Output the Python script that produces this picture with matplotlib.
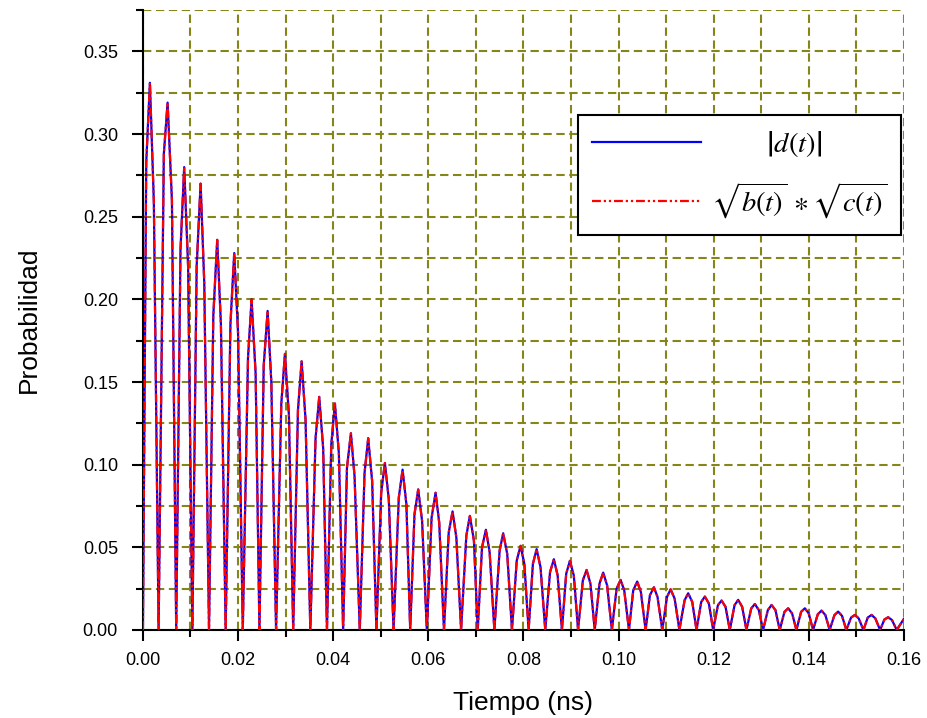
import numpy as np
import matplotlib
matplotlib.use("Agg")
import matplotlib.pyplot as plt
from matplotlib.ticker import MultipleLocator, FormatStrFormatter

# Peaks of the oscillation (time in ns, probability)
peak_t = [0.00147, 0.00519, 0.00868, 0.01213, 0.01562, 0.01920, 0.02285, 0.02622,
          0.02986, 0.03337, 0.03707, 0.04037, 0.04373, 0.04737, 0.05088, 0.05460,
          0.05788, 0.06154, 0.06511, 0.06875, 0.07212, 0.07575, 0.07941, 0.08278,
          0.08641, 0.08978, 0.09329, 0.09678, 0.10044, 0.10393, 0.10744, 0.11095,
          0.11465, 0.11816, 0.12167, 0.12516, 0.12867, 0.13218, 0.13567, 0.13918,
          0.14269, 0.14618, 0.14970, 0.15321, 0.15670]
peak_p = [0.331, 0.319, 0.280, 0.270, 0.236, 0.228, 0.200, 0.193,
          0.167, 0.1625, 0.141, 0.137, 0.119, 0.116, 0.101, 0.097,
          0.085, 0.083, 0.0717, 0.069, 0.0606, 0.0585, 0.0509, 0.0489,
          0.0428, 0.0418, 0.0363, 0.0347, 0.0303, 0.0293, 0.0258, 0.0246,
          0.0222, 0.0202, 0.0178, 0.0182, 0.0157, 0.0151, 0.0131, 0.0131,
          0.0117, 0.0111, 0.0091, 0.0091, 0.0077]

# Shoulders on the rising and falling flank of each hump
rise_t = [0.0007, 0.0044, 0.0079, 0.0113, 0.0148, 0.0184, 0.0221, 0.0254,
          0.0291, 0.0326, 0.0363, 0.0396, 0.0429, 0.0466, 0.0501, 0.0538,
          0.0571, 0.0607, 0.0643, 0.0680, 0.0713, 0.0750, 0.0786, 0.0820,
          0.0856, 0.0890, 0.0925, 0.0960, 0.0996, 0.1031, 0.1066, 0.1102,
          0.1139, 0.1174, 0.1209, 0.1244, 0.1279, 0.1314, 0.1349, 0.1384,
          0.1419, 0.1454, 0.1489, 0.1524, 0.1559]
rise_p = [0.283, 0.288, 0.230, 0.220, 0.190, 0.185, 0.165, 0.160,
          0.137, 0.133, 0.116, 0.112, 0.098, 0.095, 0.083, 0.080,
          0.070, 0.068, 0.059, 0.057, 0.050, 0.048, 0.042, 0.040,
          0.035, 0.034, 0.030, 0.028, 0.025, 0.024, 0.021, 0.020,
          0.018, 0.017, 0.015, 0.015, 0.013, 0.012, 0.011, 0.011,
          0.0095, 0.009, 0.0075, 0.0075, 0.0063]
fall_t = [0.0023, 0.0061, 0.0095, 0.0129, 0.0164, 0.0200, 0.0237, 0.0270,
          0.0307, 0.0342, 0.0379, 0.0412, 0.0445, 0.0482, 0.0517, 0.0554,
          0.0587, 0.0623, 0.0659, 0.0696, 0.0729, 0.0766, 0.0802, 0.0836,
          0.0872, 0.0906, 0.0941, 0.0976, 0.1012, 0.1047, 0.1082, 0.1118,
          0.1155, 0.1190, 0.1225, 0.1260, 0.1295, 0.1330, 0.1365, 0.1400,
          0.1435, 0.1470, 0.1505, 0.1540, 0.1575]
fall_p = [0.259, 0.260, 0.220, 0.210, 0.185, 0.180, 0.155, 0.150,
          0.130, 0.127, 0.110, 0.107, 0.093, 0.090, 0.079, 0.076,
          0.066, 0.065, 0.056, 0.054, 0.047, 0.046, 0.040, 0.038,
          0.033, 0.033, 0.028, 0.027, 0.024, 0.023, 0.020, 0.019,
          0.017, 0.016, 0.014, 0.014, 0.012, 0.012, 0.010, 0.010,
          0.009, 0.0085, 0.007, 0.007, 0.006]

# Minima between humps (plus start and end of the trace)
trough_t = [0.0, 0.0033, 0.0070, 0.0104, 0.0139, 0.0174, 0.0210, 0.0245, 0.0280,
            0.0316, 0.0352, 0.0387, 0.0421, 0.0456, 0.0491, 0.0527, 0.0562,
            0.0597, 0.0633, 0.0669, 0.0704, 0.0739, 0.0776, 0.0811, 0.0846,
            0.0881, 0.0915, 0.0950, 0.0986, 0.1022, 0.1057, 0.1092, 0.1128,
            0.1164, 0.1199, 0.1234, 0.1269, 0.1304, 0.1339, 0.1374, 0.1409,
            0.1444, 0.1479, 0.1515, 0.1550, 0.1585, 0.1600]
trough_p = [0.0] * 46 + [0.0067]

t = np.array(peak_t + rise_t + fall_t + trough_t)
p = np.array(peak_p + rise_p + fall_p + trough_p)
order = np.argsort(t)
t, p = t[order], p[order]

plt.rcParams["font.family"] = ["Liberation Sans", "DejaVu Sans"]
plt.rcParams["mathtext.fontset"] = "stix"

fig = plt.figure(figsize=(9.28, 7.18), dpi=100)
ax = fig.add_axes([0.154, 0.1226, 0.82, 0.8634])

ax.plot(t, p, color="#0000ff", lw=1.6, label=r"$\left|d\left(t\right)\right|$", zorder=3)
ax.plot(t, p, color="#ff0000", lw=1.6, dashes=(4, 1.3, 1, 1.3, 1, 1.3),
        label=r"$\sqrt{b(t)}\,\ast\sqrt{c(t)}$ ", zorder=4)

ax.set_xlim(0, 0.16)
ax.set_ylim(0, 0.375)
ax.xaxis.set_major_locator(MultipleLocator(0.02))
ax.xaxis.set_minor_locator(MultipleLocator(0.01))
ax.yaxis.set_major_locator(MultipleLocator(0.05))
ax.yaxis.set_minor_locator(MultipleLocator(0.025))
ax.xaxis.set_major_formatter(FormatStrFormatter("%.2f"))
ax.yaxis.set_major_formatter(FormatStrFormatter("%.2f"))

ax.grid(True, which="both", color="#85851a", ls=(0, (4, 2.2)), lw=1.5, zorder=0)
ax.set_axisbelow(True)

for side in ["top", "right"]:
    ax.spines[side].set_visible(False)
for side in ["left", "bottom"]:
    ax.spines[side].set_linewidth(1.5)

ax.tick_params(which="major", direction="out", length=8, width=1.5, labelsize=13)
ax.tick_params(axis="y", which="major", pad=10)
ax.tick_params(axis="x", which="major", pad=8)
ax.tick_params(which="minor", direction="out", length=5, width=1.5)

ax.set_xlabel("Tiempo (ns)", fontsize=19, labelpad=16)
ax.set_ylabel("Probabilidad", fontsize=19, labelpad=30)

leg = ax.legend(loc="upper left", bbox_to_anchor=(0.572, 0.831), fontsize=20.5,
                handlelength=3.8, handletextpad=0.35, borderpad=0.5, borderaxespad=0,
                labelspacing=0.75, fancybox=False, framealpha=1, edgecolor="black")
leg.get_frame().set_linewidth(1.5)
leg.texts[0].set_text(r"       $\left|d\left(t\right)\right|$")

fig.savefig("out.png", dpi=100)
